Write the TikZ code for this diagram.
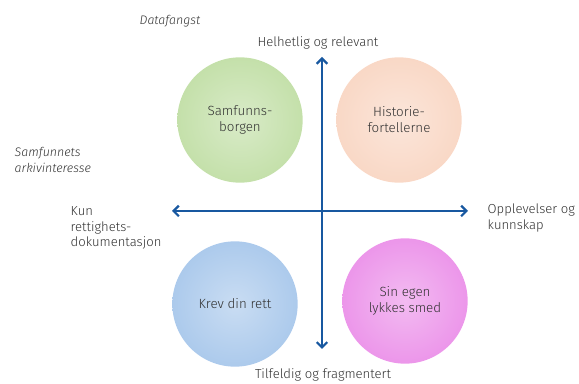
\documentclass[tikz,border=0pt]{standalone}
\usepackage{fontspec}
\setmainfont{Fira Sans Light}
\usetikzlibrary{arrows.meta}
\definecolor{axisblue}{RGB}{24,88,160}
\definecolor{ballgreen}{RGB}{196,224,170}
\definecolor{ballpeach}{RGB}{249,216,198}
\definecolor{ballblue}{RGB}{172,202,236}
\definecolor{ballpink}{RGB}{236,150,234}
\definecolor{txtgrey}{RGB}{50,50,50}
\tikzset{
  axis/.style={draw=axisblue,line width=1.6pt,{Straight Barb[length=4pt,width=8pt]}-{Straight Barb[length=4pt,width=8pt]}},
  ball/.style={circle,minimum size=94pt,inner sep=0pt,align=center,text=txtgrey,font=\fontsize{10}{12}\selectfont},
  lbl/.style={text=txtgrey,font=\fontsize{9.8}{11.8}\selectfont},
  note/.style={lbl,font=\fontsize{9.3}{11.5}\selectfont\itshape}
}
\begin{document}
\begin{tikzpicture}[x=0.75pt,y=-0.75pt]
\useasboundingbox (0,0) rectangle (579,384);

% the four balls
\node[ball,inner color=ballgreen!65,outer color=ballgreen] (samf) at (240,120) {Samfunns-\\borgen};
\node[ball,inner color=ballpeach!65,outer color=ballpeach] (hist) at (399,120) {Historie-\\fortellerne};
\node[ball,inner color=ballblue!65,outer color=ballblue] (krev) at (235,304) {Krev din rett};
\node[ball,inner color=ballpink!65,outer color=ballpink] (smed) at (405,301) {Sin egen\\lykkes smed};

% axes
\coordinate (top) at (322,57);
\coordinate (bot) at (322,349);
\coordinate (left) at (172,211);
\coordinate (right) at (468,211);
\draw[axis] (bot) -- (top);
\draw[axis] (left) -- (right);

% axis labels
\node[lbl] (hel) at (318,43) {Helhetlig og relevant};
\node[lbl] (til) at (323,375) {Tilfeldig og fragmentert};
\node[lbl,anchor=west,align=left] (kun) at (66,228) {Kun\\rettighets-\\dokumentasjon};
\node[lbl,anchor=west,align=left] (opp) at (483,218) {Opplevelser og\\kunnskap};

% headings
\node[note] (data) at (170,21) {Datafangst};
\node[note,anchor=west,align=left] (arkiv) at (10,160) {Samfunnets\\arkivinteresse};

\end{tikzpicture}
\end{document}
